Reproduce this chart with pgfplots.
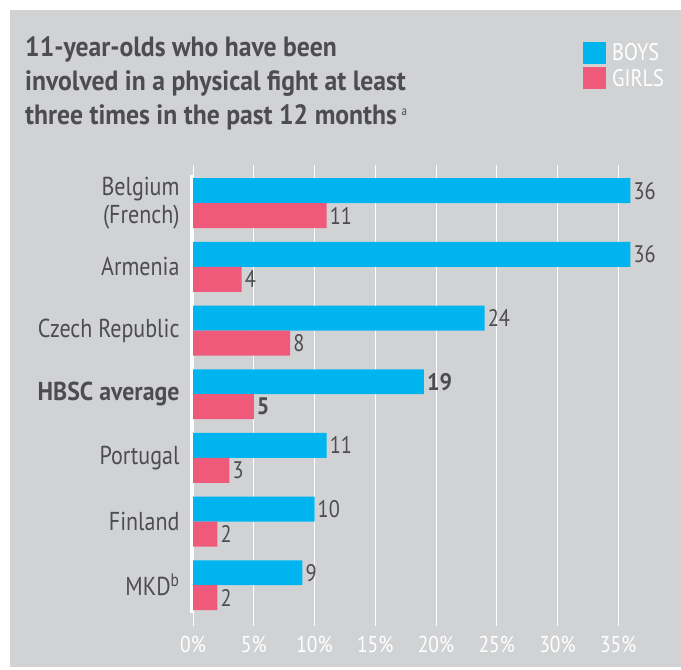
\documentclass[border=0pt]{standalone}
\usepackage{pgfplots}
\pgfplotsset{compat=1.18}
\usepackage{fontspec}
\setmainfont{PT Sans}[FakeStretch=0.85, BoldFeatures={FakeStretch=0.92}]
\definecolor{bg}{RGB}{209,210,212}
\definecolor{boys}{RGB}{0,181,239}
\definecolor{girls}{RGB}{240,90,122}
\definecolor{txt}{RGB}{77,77,79}
\begin{document}
\begin{tikzpicture}
\fill[white] (0bp,0bp) rectangle (681bp,670bp);
\fill[bg] (10bp,3bp) rectangle (681bp,660bp);
\node[anchor=base west, font=\bfseries\fontsize{28}{28}\selectfont, text=txt, inner sep=0] at (25bp,613bp) {11-year-olds who have been};
\node[anchor=base west, font=\bfseries\fontsize{28}{28}\selectfont, text=txt, inner sep=0] at (25bp,579bp) {involved in a physical fight at least};
\node[anchor=base west, font=\bfseries\fontsize{28}{28}\selectfont, text=txt, inner sep=0] at (25bp,545bp) {three times in the past 12 months\,\raisebox{9bp}{\fontsize{13}{13}\selectfont\mdseries a}};
\fill[boys] (583bp,606bp) rectangle (606bp,628bp);
\fill[girls] (583bp,581bp) rectangle (606bp,603bp);
\node[anchor=base west, text=white, font=\fontsize{24}{24}\selectfont, inner sep=0] at (612bp,609bp) {BOYS};
\node[anchor=base west, text=white, font=\fontsize{24}{24}\selectfont, inner sep=0] at (612bp,583bp) {GIRLS};
\begin{axis}[at={(193bp,44bp)}, anchor=south west, scale only axis,
  width=486bp, height=461bp,
  xmin=0, xmax=40, ymin=-0.64, ymax=6.6,
  xbar, bar width=0.392,
  /pgf/number format/assume math mode=true,
  xtick={0,5,...,35}, xticklabel={\pgfmathprintnumber{\tick}\%},
  ytick={0,...,6},
  yticklabels={MKD\textsuperscript{b},Finland,Portugal,\textbf{HBSC average},Czech Republic,Armenia,{Belgium\\(French)}},
  axis line style={draw=none}, major tick length=0,
  xmajorgrids, grid style={white, line width=0.8bp},
  xticklabel style={text=white, font=\fontsize{23}{23}\selectfont, yshift=-7bp},
  yticklabel style={text=txt, align=right, font=\fontsize{26}{28}\selectfont, xshift=-10bp},
  nodes near coords, point meta=explicit symbolic,
  every node near coord/.append style={text=txt, font=\fontsize{24}{24}\selectfont, anchor=west, inner xsep=3bp},
  clip=false]
\addplot[fill=boys, draw=none, bar shift=0.196] coordinates {(9,0) [9] (10,1) [10] (11,2) [11] (19,3) [\textbf{19}] (24,4) [24] (36,5) [36] (36,6) [36]};
\addplot[fill=girls, draw=none, bar shift=-0.196] coordinates {(2,0) [2] (2,1) [2] (3,2) [3] (5,3) [\textbf{5}] (8,4) [8] (4,5) [4] (11,6) [11]};
\draw[white, line width=3bp] ([xshift=-1.5bp]axis cs:0,-0.44) -- ([xshift=-1.5bp]axis cs:0,6.44);
\end{axis}
\end{tikzpicture}
\end{document}
